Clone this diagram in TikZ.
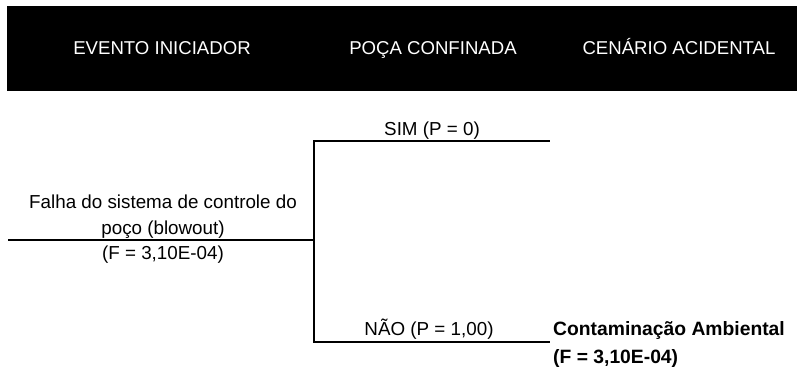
\documentclass[tikz,border=0pt]{standalone}
\usepackage{fontspec}
\setmainfont{Liberation Sans}
\begin{document}
\begin{tikzpicture}[x=1pt,y=-1pt,
  hdr/.style={text=white,font=\fontsize{18.6}{22}\selectfont,inner sep=0pt,anchor=base},
  lbl/.style={font=\fontsize{18.8}{26}\selectfont,inner sep=0pt,anchor=base},
  res/.style={font=\fontsize{19.3}{29}\selectfont\bfseries,inner sep=0pt,anchor=base west},
  branch/.style={line width=1.8pt}]
\useasboundingbox (0,0) rectangle (797,367);
\fill[black] (7,6) rectangle (797,91);
\node[hdr] (h1) at (162,54) {EVENTO INICIADOR};
\node[hdr] (h2) at (433,54) {POÇA CONFINADA};
\node[hdr] (h3) at (679,54) {CENÁRIO ACIDENTAL};
% tree
\coordinate (s) at (8,240);
\coordinate (j) at (314,240);
\coordinate (jt) at (314,141);
\coordinate (jb) at (314,342);
\coordinate (et) at (550,141);
\coordinate (eb) at (550,342);
\draw[branch] (s) -- (j);
\draw[branch,line cap=rect] (jt) -- (jb);
\draw[branch] (jt) -- (et);
\draw[branch] (jb) -- (eb);
\node[lbl] (ie1) at (163,208) {Falha do sistema de controle do};
\node[lbl] (ie2) at (163,234) {poço (blowout)};
\node[lbl] (ief) at (163,259) {(F = 3,10E-04)};
\node[lbl] (sim) at (432,135) {SIM (P = 0)};
\node[lbl] (nao) at (429,335) {NÃO (P = 1,00)};
\node[res] (c1) at (553,335) {Contaminação Ambiental};
\node[res] (c2) at (553,363) {(F = 3,10E-04)};
\end{tikzpicture}
\end{document}
